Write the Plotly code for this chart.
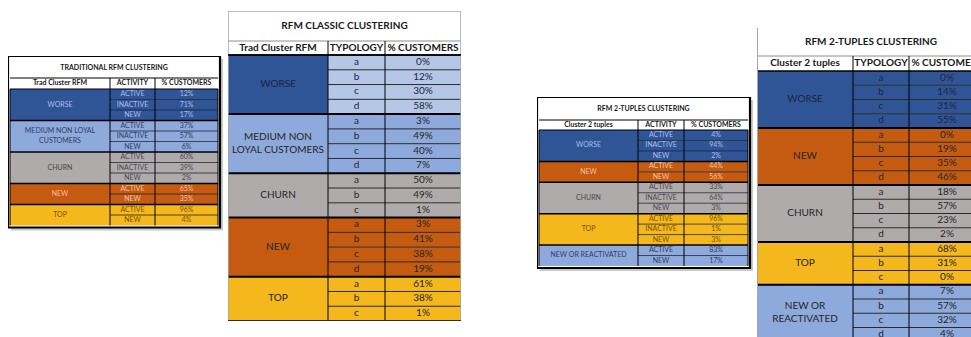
import plotly.graph_objects as go

FIG_W, FIG_H = 971, 337
FONT = "Lato, Liberation Sans, Arial, sans-serif"

# ---------------- data ----------------
trad_title = "TRADITIONAL RFM CLUSTERING"
trad_headers = ["Trad Cluster RFM", "ACTIVITY", "% CUSTOMERS"]
trad_clusters = ["WORSE", "MEDIUM NON LOYAL<br>CUSTOMERS", "CHURN", "NEW", "TOP"]
trad_kinds = ["worse", "medium", "churn", "new", "top"]
trad_activity = [["ACTIVE", "INACTIVE", "NEW"], ["ACTIVE", "INACTIVE", "NEW"],
                 ["ACTIVE", "INACTIVE", "NEW"], ["ACTIVE", "NEW"], ["ACTIVE", "NEW"]]
trad_pct = [[12, 71, 17], [37, 57, 6], [60, 39, 2], [65, 35], [96, 4]]

classic_title = "RFM CLASSIC CLUSTERING"
classic_headers = ["Trad Cluster RFM", "TYPOLOGY", "% CUSTOMERS"]
classic_clusters = ["WORSE", "MEDIUM NON<br>LOYAL CUSTOMERS", "CHURN", "NEW", "TOP"]
classic_kinds = ["worse", "medium", "churn", "new", "top"]
classic_typology = [["a", "b", "c", "d"], ["a", "b", "c", "d"], ["a", "b", "c"],
                    ["a", "b", "c", "d"], ["a", "b", "c"]]
classic_pct = [[0, 12, 30, 58], [3, 49, 40, 7], [50, 49, 1], [3, 41, 38, 19], [61, 38, 1]]

tup_title = "RFM 2-TUPLES CLUSTERING"
tup_headers = ["Cluster 2 tuples", "ACTIVITY", "% CUSTOMERS"]
tup_clusters = ["WORSE", "NEW", "CHURN", "TOP", "NEW OR REACTIVATED"]
tup_kinds = ["worse", "new", "churn", "top", "reactivated"]
tup_activity = [["ACTIVE", "INACTIVE", "NEW"], ["ACTIVE", "NEW"], ["ACTIVE", "INACTIVE", "NEW"],
                ["ACTIVE", "INACTIVE", "NEW"], ["ACTIVE", "NEW"]]
tup_pct = [[4, 94, 2], [44, 56], [33, 64, 3], [96, 1, 3], [83, 17]]

tupt_title = "RFM 2-TUPLES CLUSTERING"
tupt_headers = ["Cluster 2 tuples", "TYPOLOGY", "% CUSTOMERS"]
tupt_clusters = ["WORSE", "NEW", "CHURN", "TOP", "NEW OR<br>REACTIVATED"]
tupt_kinds = ["worse", "new", "churn", "top", "reactivated"]
tupt_typology = [["a", "b", "c", "d"], ["a", "b", "c", "d"], ["a", "b", "c", "d"],
                 ["a", "b", "c"], ["a", "b", "c", "d"]]
tupt_pct = [[0, 14, 31, 55], [0, 19, 35, 46], [18, 57, 23, 2], [68, 31, 0], [7, 57, 32, 4]]

# ---------------- styles ----------------
FILL = {"worse": "#2F5597", "medium": "#8EA9DB", "churn": "#AFABAB", "new": "#C55A11",
        "top": "#F4B81C", "reactivated": "#8EA9DB"}
SMALL_TXT = {"worse": "#A9BEE8", "medium": "#2F3F66", "churn": "#4A4A4A", "new": "#F3C3A8",
             "top": "#7A5200", "reactivated": "#2F3F66"}
BIG_TXT = {"worse": "#1B2540", "medium": "#262626", "churn": "#262626", "new": "#262626",
           "top": "#262626", "reactivated": "#262626"}

small_style = dict(pad=2, ext=4, frame=True, title_fs=7, head_fs=7, body_fs=7,
                   txt=SMALL_TXT, sub_fill={}, sub_line=("#1E2535", 0.8),
                   grp_line=("#000000", 1.5), col_line=("#000000", 1),
                   th_line=("#000000", 1), hb_line=("#000000", 1.2))
big_style = dict(pad=0, ext=0, frame=False, title_fs=10, head_fs=10, body_fs=10,
                 txt=BIG_TXT, sub_fill={}, sub_line=("#2B2B2B", 1),
                 grp_line=("#000000", 2), col_line=("#000000", 1),
                 th_line=("#8C8C8C", 1), hb_line=("#000000", 1.5))

st1 = dict(small_style, origin=(8, 56), colw=[100, 45, 63], title_h=20, header_h=11, row_h=10.5)
st2 = dict(big_style, origin=(228, 11), colw=[100, 57, 76], title_h=30, header_h=14, row_h=14.78,
           sub_fill={"worse": "#B4C7E7"}, outline="box")
st3 = dict(small_style, origin=(537, 97), colw=[99, 46, 64], title_h=21, header_h=10, row_h=10.46)
st4 = dict(big_style, origin=(757, 28), colw=[96, 56, 76], title_h=28, header_h=15, row_h=14.25,
           outline="left")

fig = go.Figure()
shapes = []


def build(k, title, headers, clusters, subs, pcts, kinds, st):
    xr = "x" if k == 1 else f"x{k}"
    yr = "y" if k == 1 else f"y{k}"
    cw = st["colw"]
    cx = [0, cw[0], cw[0] + cw[1], sum(cw)]
    tw = cx[-1]
    nrows = sum(len(s) for s in subs)
    th, hh, rh = st["title_h"], st["header_h"], st["row_h"]
    b0 = th + hh
    tot_h = b0 + nrows * rh
    pad, ext = st["pad"], st["ext"]
    ox, oy = st["origin"]
    px1 = min(ox + tw + 2 * pad + ext, FIG_W)
    py1 = min(oy + tot_h + 2 * pad + ext, FIG_H)
    fig.layout["xaxis" if k == 1 else f"xaxis{k}"] = dict(
        domain=[ox / FIG_W, px1 / FIG_W], range=[-pad, px1 - ox - pad],
        visible=False, fixedrange=True, anchor=yr)
    fig.layout["yaxis" if k == 1 else f"yaxis{k}"] = dict(
        domain=[1 - py1 / FIG_H, 1 - oy / FIG_H], range=[py1 - oy - pad, -pad],
        visible=False, fixedrange=True, anchor=xr)

    def rect(x0, y0, x1, y1, fill, lc=None, lw=0):
        shapes.append(dict(type="rect", xref=xr, yref=yr, x0=x0, y0=y0, x1=x1, y1=y1,
                           layer="below", fillcolor=fill, line=dict(color=lc or fill, width=lw)))

    def line(x0, y0, x1, y1, spec):
        shapes.append(dict(type="line", xref=xr, yref=yr, x0=x0, y0=y0, x1=x1, y1=y1,
                           layer="below", line=dict(color=spec[0], width=spec[1])))

    tx, ty, tt, tc, ts = [], [], [], [], []

    def text(x, y, s, c, size):
        tx.append(x); ty.append(y); tt.append(s); tc.append(c); ts.append(size)

    if st["frame"]:
        rect(-pad + 3, -pad + 3, tw + pad + 3, tot_h + pad + 3, "#C9C9C9")
        rect(-pad, -pad, tw + pad, tot_h + pad, "#FFFFFF")
    # title + header cells
    rect(0, 0, tw, th, "#FFFFFF")
    text(tw / 2, th / 2, f"<b>{title}</b>", "#1A1A1A", st["title_fs"])
    rect(0, th, tw, b0, "#FFFFFF")
    for i, h in enumerate(headers):
        text((cx[i] + cx[i + 1]) / 2, th + hh / 2, f"<b>{h}</b>", "#1A1A1A", st["head_fs"])

    # body
    y = b0
    bounds = []
    for g, lab in enumerate(clusters):
        kind = kinds[g]
        n = len(subs[g])
        fill = FILL[kind]
        sfill = st["sub_fill"].get(kind, fill)
        col = st["txt"][kind]
        rect(cx[0], y, cx[1], y + n * rh, fill)
        text(cx[1] / 2, y + n * rh / 2, lab, col, st["body_fs"])
        for j in range(n):
            yy = y + j * rh
            rect(cx[1], yy, cx[3], yy + rh, sfill)
            text((cx[1] + cx[2]) / 2, yy + rh / 2, subs[g][j], col, st["body_fs"])
            text((cx[2] + cx[3]) / 2, yy + rh / 2, f"{pcts[g][j]}%", col, st["body_fs"])
        bounds.append((y, n))
        y += n * rh

    # lines
    for (yg, n) in bounds:
        for j in range(1, n):
            line(cx[1], yg + j * rh, cx[3], yg + j * rh, st["sub_line"])
    for (yg, n) in bounds[1:]:
        line(cx[0], yg, cx[3], yg, st["grp_line"])
    line(cx[0], th, cx[3], th, st["th_line"])
    line(cx[0], b0, cx[3], b0, st["hb_line"])
    for i in (1, 2):
        line(cx[i], th, cx[i], tot_h, st["col_line"])
    if st["frame"]:
        line(cx[0], b0, cx[0], tot_h, ("#000000", 1))
        line(cx[3], b0, cx[3], tot_h, ("#000000", 1))
        shapes.append(dict(type="rect", xref=xr, yref=yr, x0=-pad, y0=-pad, x1=tw + pad,
                           y1=tot_h + pad, layer="below", fillcolor="rgba(0,0,0,0)",
                           line=dict(color="#000000", width=2.2)))
    elif st.get("outline") == "box":
        shapes.append(dict(type="rect", xref=xr, yref=yr, x0=0, y0=0, x1=tw, y1=tot_h,
                           layer="below", fillcolor="rgba(0,0,0,0)",
                           line=dict(color="#A6A6A6", width=1.5)))
        line(cx[0], tot_h, cx[3], tot_h, ("#000000", 1.5))
        line(cx[0], b0, cx[3], b0, st["hb_line"])
    elif st.get("outline") == "left":
        line(0, 0, 0, tot_h, ("#A6A6A6", 2))

    fig.add_trace(go.Scatter(x=tx, y=ty, text=tt, mode="text", xaxis=xr, yaxis=yr,
                             textfont=dict(family=FONT, color=tc, size=ts),
                             hoverinfo="skip", showlegend=False, cliponaxis=True))


build(1, trad_title, trad_headers, trad_clusters, trad_activity, trad_pct, trad_kinds, st1)
build(2, classic_title, classic_headers, classic_clusters, classic_typology, classic_pct, classic_kinds, st2)
build(3, tup_title, tup_headers, tup_clusters, tup_activity, tup_pct, tup_kinds, st3)
build(4, tupt_title, tupt_headers, tupt_clusters, tupt_typology, tupt_pct, tupt_kinds, st4)

fig.update_layout(width=FIG_W, height=FIG_H, margin=dict(l=0, r=0, t=0, b=0),
                  paper_bgcolor="#FFFFFF", plot_bgcolor="rgba(0,0,0,0)",
                  shapes=shapes, showlegend=False, font=dict(family=FONT))
fig.write_html("out.html", config={"displayModeBar": False},
               post_script="document.body.style.margin='0px';document.body.style.overflow='hidden';")
